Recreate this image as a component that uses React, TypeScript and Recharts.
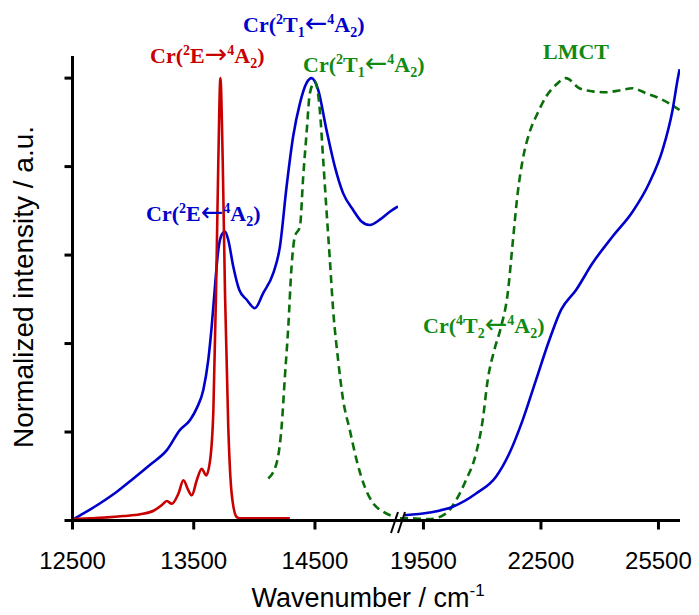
import React from "react";
import { LineChart, Line, XAxis, YAxis } from "recharts";

// [wavenumber cm-1, normalized intensity]
const emissionRed = [
  [12508, 0.003], [12645, 0.005], [12783, 0.007], [12920, 0.01], [13058, 0.014],
  [13168, 0.022], [13237, 0.035], [13278, 0.044], [13319, 0.038], [13374, 0.061],
  [13415, 0.091], [13456, 0.068], [13484, 0.057], [13525, 0.091], [13566, 0.117],
  [13602, 0.102], [13635, 0.136], [13662, 0.249], [13684, 0.513], [13703, 0.815],
  [13720, 1.0], [13739, 0.815], [13758, 0.513], [13785, 0.211], [13813, 0.061],
  [13854, 0.008], [13881, 0.005], [14293, 0.005],
];

const absBlueLeft = [
  [12508, 0.003], [12591, 0.016], [12728, 0.039], [12866, 0.065], [13003, 0.095],
  [13140, 0.126], [13278, 0.159], [13387, 0.205], [13470, 0.227], [13525, 0.254],
  [13579, 0.295], [13620, 0.363], [13648, 0.438], [13675, 0.529], [13703, 0.612],
  [13731, 0.646], [13758, 0.653], [13785, 0.634], [13826, 0.574], [13876, 0.521],
  [13937, 0.499], [14005, 0.48], [14073, 0.514], [14156, 0.559], [14211, 0.619],
  [14266, 0.755], [14320, 0.868], [14376, 0.943], [14431, 0.989], [14472, 1.0],
  [14526, 0.974], [14595, 0.883], [14664, 0.8], [14732, 0.74], [14815, 0.702],
  [14884, 0.676], [14952, 0.668], [15035, 0.68], [15117, 0.698], [15185, 0.71],
];

const excGreenLeft = [
  [14115, 0.095], [14183, 0.129], [14225, 0.212], [14252, 0.325], [14280, 0.438],
  [14307, 0.574], [14334, 0.642], [14376, 0.664], [14403, 0.777], [14431, 0.876],
  [14458, 0.966], [14499, 0.992], [14540, 0.928], [14568, 0.815], [14595, 0.702],
  [14623, 0.589], [14650, 0.476], [14691, 0.363], [14732, 0.273], [14787, 0.205],
  [14843, 0.137], [14911, 0.076], [14980, 0.039], [15062, 0.02], [15172, 0.007],
];

const absBlueRight = [
  [19015, 0.012], [19653, 0.018], [20248, 0.031], [20844, 0.061], [21352, 0.099],
  [21694, 0.152], [22033, 0.227], [22375, 0.318], [22714, 0.408], [23013, 0.476],
  [23396, 0.521], [23819, 0.582], [24329, 0.642], [24839, 0.698], [25265, 0.763],
  [25605, 0.838], [25860, 0.928], [25987, 0.996], [26040, 1.02],
];

const excGreenRight = [
  [18900, 0.005], [19143, 0.005], [19653, 0.003], [20079, 0.016], [20334, 0.046],
  [20589, 0.092], [20844, 0.152], [21013, 0.227], [21141, 0.318], [21311, 0.386],
  [21482, 0.438], [21652, 0.514], [21778, 0.627], [21906, 0.74], [22033, 0.815],
  [22204, 0.876], [22416, 0.921], [22630, 0.958], [22885, 0.985], [23140, 1.0],
  [23480, 0.977], [23819, 0.97], [24160, 0.968], [24500, 0.972], [24839, 0.977],
  [25181, 0.966], [25605, 0.951], [26040, 0.928],
];

const leftTicks = [12500, 13500, 14500];
const rightTicks = [19500, 22500, 25500];
const yTicks = [0, 0.2, 0.4, 0.6, 0.8, 1.0];

const RED = "#c80000";
const BLUE = "#0000cc";
const GREEN = "#0a6e0a";
const GREEN_TEXT = "#118a11";

const toRows = (pts: number[][]) => pts.map(([x, y]) => ({ x, y }));

const tickFont = { fontFamily: "Liberation Sans, Arial, sans-serif", fontSize: 24, fill: "#000" };
const axisLine = { stroke: "#000", strokeWidth: 3 };

type Part = [string, "n" | "sup" | "sub" | "arrow"];

const ChemLabel = ({ x, y, color, parts }: { x: number; y: number; color: string; parts: Part[] }) => {
  let level = 0;
  return (
    <text x={x} y={y} fill={color} fontFamily="Liberation Serif, Times New Roman, serif" fontWeight="bold" fontSize={22}>
      {parts.map(([t, k], i) => {
        const target = k === "sup" ? -8 : k === "sub" ? 5 : 0;
        const dy = target - level;
        level = target;
        if (k === "arrow") {
          return (
            <tspan key={i} dy={dy} fontFamily="DejaVu Sans, sans-serif" fontWeight="normal" fontSize={27}>
              {t}
            </tspan>
          );
        }
        return (
          <tspan key={i} dy={dy} fontSize={k === "n" ? 22 : 14}>
            {t}
          </tspan>
        );
      })}
    </text>
  );
};

export default function App() {
  return (
    <div style={{ position: "absolute", left: 0, top: 0, width: 699, height: 615, background: "#fff" }}>
      <div style={{ position: "absolute", left: 0, top: 0 }}>
        <LineChart width={398} height={615} margin={{ top: 56, right: 0, bottom: 34.5, left: 12.5 }}>
          <XAxis
            type="number"
            dataKey="x"
            domain={[12500, 15185]}
            ticks={leftTicks}
            interval={0}
            allowDataOverflow
            height={60}
            axisLine={axisLine}
            tickLine={axisLine}
            tickSize={9}
            tickMargin={22}
            tick={tickFont}
          />
          <YAxis
            type="number"
            domain={[0, 1.05]}
            ticks={yTicks}
            interval={0}
            width={60}
            axisLine={axisLine}
            tickLine={axisLine}
            tickSize={8}
            tickFormatter={() => ""}
          />
          <Line data={toRows(absBlueLeft)} dataKey="y" type="monotone" stroke={BLUE} strokeWidth={2.6} dot={false} isAnimationActive={false} />
          <Line data={toRows(emissionRed)} dataKey="y" type="monotone" stroke={RED} strokeWidth={2.6} dot={false} isAnimationActive={false} />
          <Line data={toRows(excGreenLeft)} dataKey="y" type="monotone" stroke={GREEN} strokeWidth={2.6} strokeDasharray="8 5" dot={false} isAnimationActive={false} />
        </LineChart>
      </div>
      <div style={{ position: "absolute", left: 340, top: 0 }}>
        <LineChart width={359} height={615} margin={{ top: 56, right: 19, bottom: 34.5, left: 58 }}>
          <XAxis
            type="number"
            dataKey="x"
            domain={[18850, 26050]}
            ticks={rightTicks}
            interval={0}
            allowDataOverflow
            height={60}
            axisLine={axisLine}
            tickLine={axisLine}
            tickSize={9}
            tickMargin={22}
            tick={tickFont}
          />
          <YAxis type="number" domain={[0, 1.05]} hide allowDataOverflow />
          <Line data={toRows(excGreenRight)} dataKey="y" type="monotone" stroke={GREEN} strokeWidth={2.6} strokeDasharray="8 5" dot={false} isAnimationActive={false} />
          <Line data={toRows(absBlueRight)} dataKey="y" type="monotone" stroke={BLUE} strokeWidth={2.6} dot={false} isAnimationActive={false} />
        </LineChart>
      </div>
      <svg width={699} height={615} style={{ position: "absolute", left: 0, top: 0, pointerEvents: "none", overflow: "visible" }}>
        <line x1={398} y1={512} x2={391} y2={533} stroke="#000" strokeWidth={2} />
        <line x1={405} y1={512} x2={398} y2={533} stroke="#000" strokeWidth={2} />
        <text
          transform="translate(33,287) rotate(-90)"
          textAnchor="middle"
          fontFamily="Liberation Sans, Arial, sans-serif"
          fontSize={28}
          fill="#000"
        >
          Normalized intensity / a.u.
        </text>
        <text x={368} y={607} textAnchor="middle" fontFamily="Liberation Sans, Arial, sans-serif" fontSize={27} fill="#000">
          <tspan>Wavenumber / cm</tspan>
          <tspan fontSize={17} dy={-11}>-1</tspan>
        </text>
        <ChemLabel x={243} y={32} color={BLUE} parts={[["Cr(", "n"], ["2", "sup"], ["T", "n"], ["1", "sub"], ["\u2190", "arrow"], ["4", "sup"], ["A", "n"], ["2", "sub"], [")", "n"]]} />
        <ChemLabel x={150} y={63} color={RED} parts={[["Cr(", "n"], ["2", "sup"], ["E", "n"], ["\u2192", "arrow"], ["4", "sup"], ["A", "n"], ["2", "sub"], [")", "n"]]} />
        <ChemLabel x={303} y={72} color={GREEN_TEXT} parts={[["Cr(", "n"], ["2", "sup"], ["T", "n"], ["1", "sub"], ["\u2190", "arrow"], ["4", "sup"], ["A", "n"], ["2", "sub"], [")", "n"]]} />
        <ChemLabel x={543} y={59} color={GREEN_TEXT} parts={[["LMCT", "n"]]} />
        <ChemLabel x={146} y={221} color={BLUE} parts={[["Cr(", "n"], ["2", "sup"], ["E", "n"], ["\u2190", "arrow"], ["4", "sup"], ["A", "n"], ["2", "sub"], [")", "n"]]} />
        <ChemLabel x={423} y={333} color={GREEN_TEXT} parts={[["Cr(", "n"], ["4", "sup"], ["T", "n"], ["2", "sub"], ["\u2190", "arrow"], ["4", "sup"], ["A", "n"], ["2", "sub"], [")", "n"]]} />
      </svg>
    </div>
  );
}
